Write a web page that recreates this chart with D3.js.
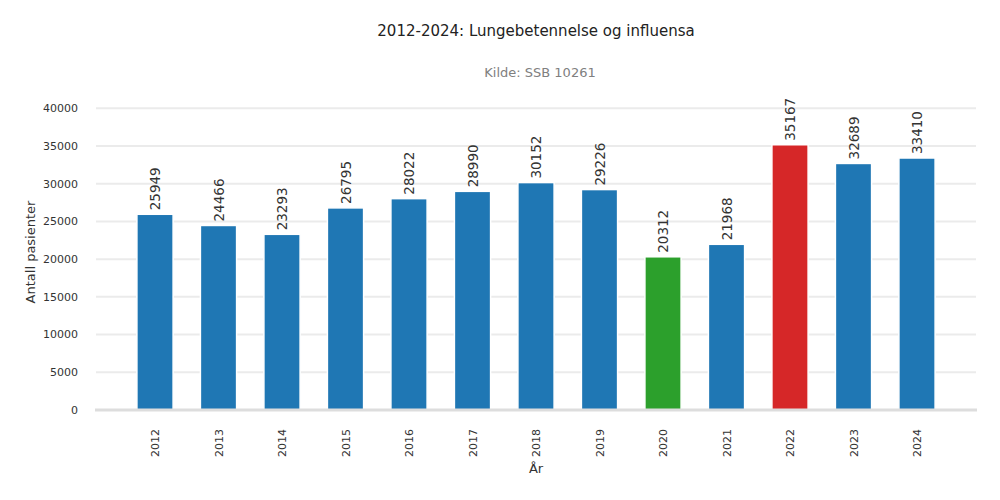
<html>
  <head>
    <meta charset="utf-8" />
    <script src="https://d3js.org/d3.v7.min.js"></script>
    <style>
      body { margin: 0; background: #fff; }
      text { font-family: "DejaVu Sans", sans-serif; }
    </style>
  </head>
  <body>
    <div class="container"></div>
  </body>
</html>

<script>
  const years = ["2012", "2013", "2014", "2015", "2016", "2017", "2018", "2019", "2020", "2021", "2022", "2023", "2024"];
  const patients = [25949, 24466, 23293, 26795, 28022, 28990, 30152, 29226, 20312, 21968, 35167, 32689, 33410];
  const barColors = ["#1f77b4", "#1f77b4", "#1f77b4", "#1f77b4", "#1f77b4", "#1f77b4", "#1f77b4", "#1f77b4", "#2ca02c", "#1f77b4", "#d62728", "#1f77b4", "#1f77b4"];
  const yTicks = [0, 5000, 10000, 15000, 20000, 25000, 30000, 35000, 40000];

  const width = 1000;
  const height = 500;
  const plotLeft = 96;
  const plotRight = 976;

  const svg = d3
    .select(".container")
    .append("svg")
    .attr("width", width)
    .attr("height", height);

  const x = d3
    .scaleBand()
    .domain(years)
    .range([123.25, 948.75])
    .paddingInner(0.43)
    .paddingOuter(0.215);

  const y = d3.scaleLinear().domain([0, 40000]).range([410, 108.3]);

  // grid
  svg
    .append("g")
    .selectAll("line")
    .data(yTicks.filter((d) => d > 0))
    .join("line")
    .attr("x1", plotLeft)
    .attr("x2", plotRight)
    .attr("y1", (d) => y(d))
    .attr("y2", (d) => y(d))
    .attr("stroke", "#ebebeb")
    .attr("stroke-width", 2);

  // y tick labels
  svg
    .append("g")
    .attr("font-size", 11)
    .attr("fill", "#333")
    .attr("text-anchor", "end")
    .selectAll("text")
    .data(yTicks)
    .join("text")
    .attr("x", 78)
    .attr("y", (d) => y(d))
    .attr("dy", "0.35em")
    .text((d) => d);

  // bars
  svg
    .append("g")
    .selectAll("rect")
    .data(patients)
    .join("rect")
    .attr("x", (d, i) => x(years[i]))
    .attr("width", x.bandwidth())
    .attr("y", (d) => y(d))
    .attr("height", (d) => y(0) - y(d))
    .attr("fill", (d, i) => barColors[i])
    .attr("stroke", "#fff")
    .attr("stroke-width", 1.5);

  // bottom axis line
  svg
    .append("line")
    .attr("x1", plotLeft - 1)
    .attr("x2", plotRight + 1)
    .attr("y1", y(0))
    .attr("y2", y(0))
    .attr("stroke", "#dddddd")
    .attr("stroke-width", 3);

  // value labels
  svg
    .append("g")
    .attr("font-size", 13.5)
    .attr("fill", "#333")
    .selectAll("text")
    .data(patients)
    .join("text")
    .attr("transform", (d, i) => `translate(${x(years[i]) + x.bandwidth() / 2 + 5},${y(d) - 4}) rotate(-90)`)
    .text((d) => d);

  // x tick labels
  svg
    .append("g")
    .attr("font-size", 11)
    .attr("fill", "#333")
    .attr("text-anchor", "end")
    .selectAll("text")
    .data(years)
    .join("text")
    .attr("transform", (d) => `translate(${x(d) + x.bandwidth() / 2 + 4},429) rotate(-90)`)
    .text((d) => d);

  // axis titles
  svg
    .append("text")
    .attr("x", 536)
    .attr("y", 473)
    .attr("text-anchor", "middle")
    .attr("font-size", 13)
    .attr("fill", "#333")
    .text("År");

  svg
    .append("text")
    .attr("transform", "translate(35,252) rotate(-90)")
    .attr("text-anchor", "middle")
    .attr("font-size", 13)
    .attr("fill", "#333")
    .text("Antall pasienter");

  // titles
  svg
    .append("text")
    .attr("x", 536)
    .attr("y", 36)
    .attr("text-anchor", "middle")
    .attr("font-size", 15)
    .attr("fill", "#222")
    .text("2012-2024: Lungebetennelse og influensa");

  svg
    .append("text")
    .attr("x", 540)
    .attr("y", 77)
    .attr("text-anchor", "middle")
    .attr("font-size", 13)
    .attr("fill", "#808080")
    .text("Kilde: SSB 10261");
</script>
